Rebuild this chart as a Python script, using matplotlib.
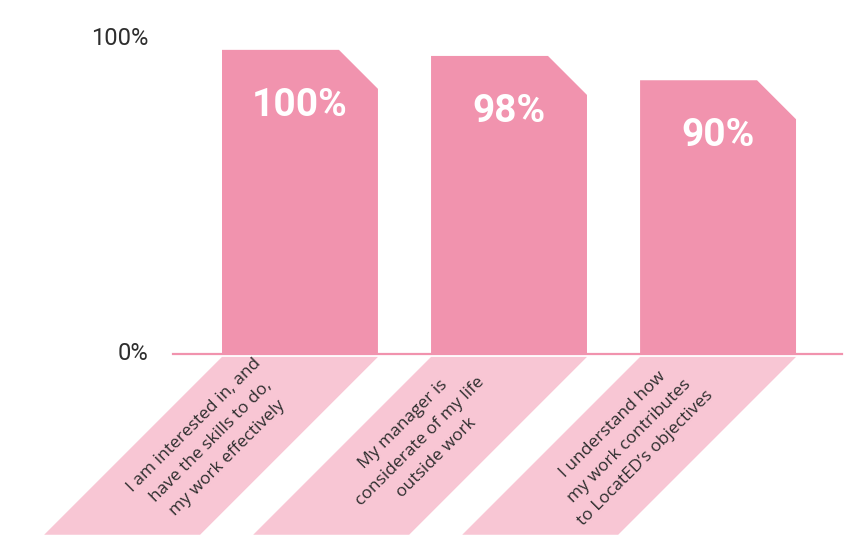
import matplotlib.pyplot as plt

# chart data
categories = [
    'I am interested in, and\nhave the skills to do,\nmy work effectively',
    'My manager is\nconsiderate of my life\noutside work',
    'I understand how\nmy work contributes\nto LocatED\u2019s objectives',
]
values = [100, 98, 90]
tick_values = [0, 100]
tick_labels = ['0%', '100%']

bar_color = '#f193ae'
label_bg = '#f8c6d4'
text_dark = '#2e2e2e'

W, H = 851, 553
fig = plt.figure(figsize=(W / 100, H / 100), dpi=100)
ax = fig.add_axes([0, 0, 1, 1])
xmin, xmax = -1.435, 2.636
ymin, ymax = -65.5, 116.4
ax.set_xlim(xmin, xmax)
ax.set_ylim(ymin, ymax)
ax.axis('off')

# pixels per data unit, used to keep the 45 degree cuts square
px_x = W / (xmax - xmin)
px_y = H / (ymax - ymin)

bar_w = 0.746
cut = 39  # px, size of the clipped top-right corner
lab_top, lab_bot = -1.0, -59.5
shear = (lab_top - lab_bot) * px_y / px_x

for i, (cat, v) in enumerate(zip(categories, values)):
    left, right = i - bar_w / 2, i + bar_w / 2
    # bar with clipped corner
    xs = [left, left, right - cut / px_x, right, right]
    ys = [0, v, v, v - cut / px_y, 0]
    ax.fill(xs, ys, color=bar_color, lw=0, zorder=2)
    ax.annotate(f'{v}%', xy=(i, v), xytext=(0, -26.5), textcoords='offset points',
                ha='center', va='top', color='white', fontsize=28,
                fontweight='bold', family='Roboto', zorder=4)
    # slanted label panel
    px = [left, right, right - shear, left - shear]
    py = [lab_top, lab_top, lab_bot, lab_bot]
    ax.fill(px, py, color=label_bg, lw=0, zorder=1)
    ax.text(i - shear / 2, (lab_top + lab_bot) / 2 + 1.5, cat, rotation=45,
            rotation_mode='anchor', ha='center', va='center',
            multialignment='center', fontsize=12.5, family='Open Sans',
            color=text_dark, linespacing=1.6, zorder=3)

# baseline
ax.plot([-0.608, 2.593], [0, 0], color=bar_color, lw=1.6, zorder=3)

# axis tick labels
for t, lab in zip(tick_values, tick_labels):
    ax.text(-0.727, t, lab, ha='right', va='bottom' if t > 0 else 'center',
            fontsize=17, family='Roboto', color=text_dark)

fig.savefig('out.png', dpi=100)
